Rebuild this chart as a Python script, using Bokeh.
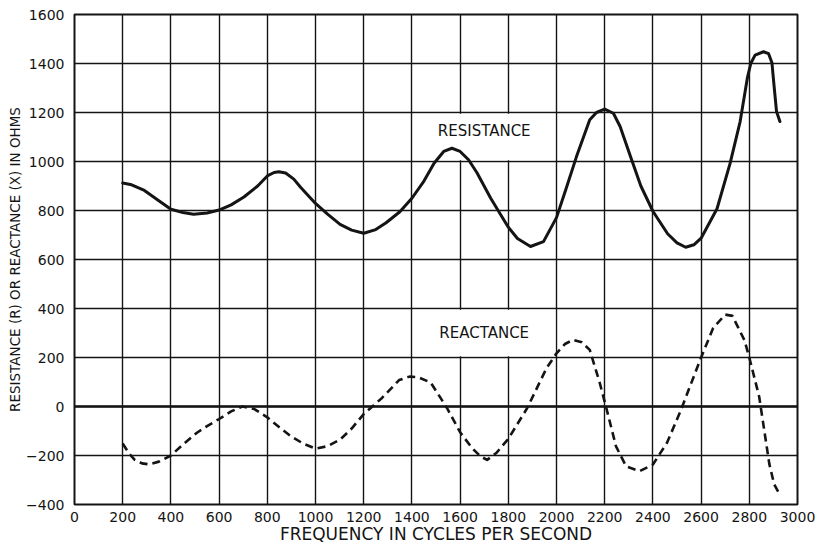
from bokeh.plotting import figure
from bokeh.models import Span, Label, FixedTicker, Range1d
from bokeh.embed import file_html
from bokeh.resources import INLINE

# ---- data ----
x_ticks = list(range(0, 3001, 200))
y_ticks = list(range(-400, 1601, 200))

res_freq = [200, 237, 290, 350, 400, 450, 494, 550, 600, 650, 703, 760, 800,
            828, 848, 876, 910, 938, 1000, 1050, 1102, 1150, 1200, 1250, 1293,
            1350, 1400, 1450, 1492, 1532, 1566, 1600, 1635, 1670, 1727, 1800,
            1838, 1892, 1946, 2000, 2040, 2083, 2138, 2166, 2200, 2236, 2264,
            2307, 2350, 2400, 2461, 2500, 2536, 2570, 2600, 2666, 2720, 2762,
            2792, 2806, 2824, 2859, 2880, 2894, 2901, 2913, 2927]
res_ohms = [912, 905, 882, 840, 805, 792, 785, 790, 802, 823, 855, 900, 941,
            955, 958, 953, 928, 895, 829, 785, 743, 720, 707, 722, 750,
            795, 850, 920, 993, 1041, 1054, 1041, 1007, 954, 850, 732,
            686, 653, 673, 771, 890, 1020, 1170, 1200, 1214, 1197, 1143,
            1020, 900, 797, 705, 668, 650, 660, 687, 807, 991, 1163,
            1341, 1400, 1434, 1448, 1440, 1403, 1327, 1204, 1163]

rea_freq = [200, 225, 250, 280, 310, 350, 400, 450, 508, 550, 600, 650, 697,
            745, 800, 850, 897, 950, 1000, 1050, 1102, 1150, 1200, 1276, 1347,
            1390, 1424, 1478, 1546, 1600, 1650, 1684, 1712, 1750, 1800, 1878,
            1959, 2000, 2035, 2069, 2105, 2138, 2179, 2207, 2247, 2289, 2344,
            2400, 2459, 2514, 2600, 2650, 2700, 2730, 2750, 2780, 2800, 2841,
            2862, 2883, 2903, 2927]
rea_ohms = [-151, -190, -218, -232, -236, -225, -200, -155, -107, -80, -51, -20, 0,
            -10, -44, -85, -121, -152, -172, -162, -135, -90, -31, 35, 108,
            122, 120, 98, -7, -105, -170, -203, -218, -190, -132, -7,
            157, 217, 255, 272, 262, 231, 98, -7, -163, -244, -264,
            -237, -147, -20, 200, 320, 375, 370, 330, 270, 200, 40,
            -97, -234, -317, -361]

assert len(res_freq) == len(res_ohms)
assert len(rea_freq) == len(rea_ohms)

curve_names = ["RESISTANCE", "REACTANCE"]
label_x = [1700, 1700]
label_y = [1124, 300]
box_left = [1405, 1405]
box_right = [1995, 1995]
box_bottom = [1005, 205]
box_top = [1195, 395]

FONT = "DejaVu Sans"
INK = "#141414"

p = figure(width=816, height=546, output_backend="svg", toolbar_location=None,
           x_range=Range1d(0, 3000), y_range=Range1d(-400, 1600),
           min_border_left=74, min_border_right=19, min_border_top=14,
           min_border_bottom=40, background_fill_color="white",
           border_fill_color="white")

p.outline_line_color = INK
p.outline_line_width = 2

for ax in (p.xaxis[0], p.yaxis[0]):
    ax.major_tick_line_color = None
    ax.minor_tick_line_color = None
    ax.axis_line_color = None
    ax.major_label_text_font = FONT
    ax.major_label_text_font_size = "14px"
    ax.major_label_text_color = INK
    ax.axis_label_text_font = FONT
    ax.axis_label_text_font_style = "normal"
    ax.axis_label_text_color = INK

p.xaxis.ticker = FixedTicker(ticks=x_ticks)
p.yaxis.ticker = FixedTicker(ticks=y_ticks)
p.xaxis.major_label_standoff = 1
p.yaxis.major_label_standoff = 4
p.xaxis.axis_label = "FREQUENCY IN CYCLES PER SECOND"
p.yaxis.axis_label = "RESISTANCE (R) OR REACTANCE (X) IN OHMS"
p.xaxis.axis_label_text_font_size = "17px"
p.yaxis.axis_label_text_font_size = "13.5px"
p.xaxis.axis_label_standoff = -1
p.yaxis.axis_label_standoff = 0

p.xgrid.ticker = FixedTicker(ticks=x_ticks)
p.ygrid.ticker = FixedTicker(ticks=y_ticks)
for g in (p.xgrid[0], p.ygrid[0]):
    g.grid_line_color = INK
    g.grid_line_width = 1.4
    g.grid_line_alpha = 1.0

p.add_layout(Span(location=0, dimension="width", line_color=INK, line_width=2.6))

# white boxes behind the curve labels
p.quad(left=box_left, right=box_right, bottom=box_bottom, top=box_top,
       fill_color="white", line_color=None)

p.line(res_freq, res_ohms, line_color=INK, line_width=3, line_join="round",
       line_cap="round")
p.line(rea_freq, rea_ohms, line_color=INK, line_width=2.6, line_dash="8 5",
       line_join="round")

for name, lx, ly in zip(curve_names, label_x, label_y):
    p.add_layout(Label(x=lx, y=ly, text=name, text_align="center",
                       text_baseline="middle", text_font=FONT,
                       text_font_size="15px", text_color=INK))

open("out.html", "w").write(file_html(p, INLINE))
